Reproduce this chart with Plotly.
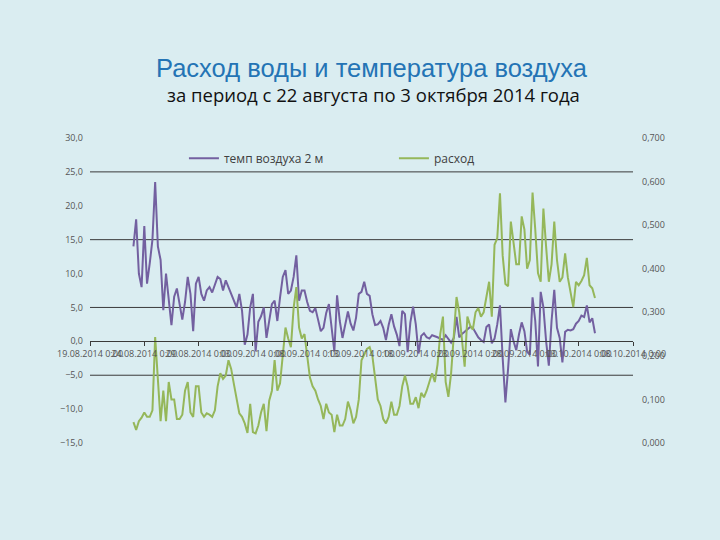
import pandas as pd
import plotly.graph_objects as go

# ---- data (6-hourly readings, starting 23.08.2014 0:00) ----
START = "2014-08-23 00:00"
STEP = "6h"

temp_2m = [
    14, 18, 10, 8, 17, 8.5, 11.5, 15, 23.5, 14,
    12, 4.6, 10, 6.5, 2.4, 6.6, 7.8, 5.5, 3.2, 5.8,
    9.5, 7, 1.5, 8.5, 9.5, 7, 6, 7.5, 8, 7.2,
    8.3, 9.5, 9.2, 7.5, 9, 8, 7, 6.2, 5, 7,
    4.5, -0.5, 1, 5, 7, -1.5, 2.9, 3.7, 5, 0.5,
    3.4, 5.5, 6, 3, 6.5, 9.5, 10.5, 7, 7.5, 9.5,
    12.7, 6, 7.5, 7.5, 5.8, 4.5, 4.3, 4.9, 3.2, 1.5,
    2, 4.2, 5.5, 2, -1.5, 6.8, 3, 0.5, 2.4, 4.4,
    2.6, 1.6, 3.5, 7, 7.3, 8.8, 7, 6.7, 4, 2.4,
    2.5, 3, 2, 0.2, 2.4, 4, 2.2, 1, -0.7, 4.5,
    4, -1.6, 2.8, 5.1, 2.5, -1.8, 0.8, 1.2, 0.6, 0.4,
    0.9, 0.8, 0.6, 0.4, 0.2, 0.9, 0.3, -0.2, 0.5, 3.6,
    0.6, 1.1, 1.4, 1.7, 2.1, 2, 1.2, 0.6, 0.2, -0.1,
    2.1, 2.5, -0.3, 0.4, 2.5, 5.3, -2.5, -9, -4, 1.8,
    0, -1.3, 1, 2.8, 1.5, -1.5, -2, 6.5, 3, -3.7,
    7.3, 5, 0, -3.6, 3, 7.6, 2, 0.5, -3.1, 1.4,
    1.7, 1.6, 1.8, 2.6, 3, 3.8, 3.6, 5.3, 2.8, 3.4,
    1.2,
]

discharge = [
    0.048, 0.03, 0.05, 0.058, 0.07, 0.06, 0.06, 0.075, 0.243, 0.155,
    0.05, 0.12, 0.05, 0.14, 0.1, 0.1, 0.055, 0.055, 0.065, 0.12,
    0.14, 0.07, 0.06, 0.13, 0.13, 0.07, 0.06, 0.068, 0.065, 0.06,
    0.075, 0.13, 0.16, 0.147, 0.155, 0.19, 0.17, 0.135, 0.1, 0.068,
    0.06, 0.045, 0.023, 0.09, 0.025, 0.022, 0.04, 0.07, 0.09, 0.027,
    0.097, 0.12, 0.19, 0.12, 0.137, 0.198, 0.265, 0.24, 0.22, 0.31,
    0.358, 0.265, 0.24, 0.25, 0.2, 0.15, 0.13, 0.12, 0.1, 0.085,
    0.055, 0.09, 0.07, 0.065, 0.025, 0.065, 0.04, 0.04, 0.055, 0.095,
    0.075, 0.045, 0.06, 0.1, 0.19, 0.205, 0.216, 0.22, 0.2, 0.15,
    0.1, 0.085, 0.055, 0.045, 0.06, 0.095, 0.065, 0.065, 0.085, 0.13,
    0.155, 0.13, 0.09, 0.09, 0.105, 0.08, 0.115, 0.105, 0.12, 0.14,
    0.16, 0.14, 0.18, 0.25, 0.29, 0.14, 0.106, 0.16, 0.25, 0.335,
    0.3, 0.24, 0.175, 0.29, 0.27, 0.26, 0.3, 0.31, 0.29, 0.3,
    0.34, 0.37, 0.29, 0.455, 0.47, 0.573, 0.43, 0.365, 0.36, 0.508,
    0.46, 0.41, 0.41, 0.52, 0.49, 0.4, 0.42, 0.575, 0.49, 0.39,
    0.37, 0.538, 0.45, 0.37, 0.41, 0.508, 0.42, 0.37, 0.38, 0.435,
    0.38, 0.345, 0.312, 0.37, 0.362, 0.372, 0.385, 0.425, 0.362, 0.355,
    0.333,
]

times = pd.date_range(START, periods=len(temp_2m), freq=STEP)

series_names = ["темп воздуха 2 м", "расход"]
title_text = "Расход воды и температура воздуха"
subtitle_text = "за период с 22 августа по 3 октября 2014 года"

X_RANGE = ["2014-08-19", "2014-10-08"]
LEFT_RANGE = [-15, 30]
RIGHT_RANGE = [0, 0.7]
GRID_LEVELS = [-5, 5, 15, 25]   # left-axis levels where the chart draws gridlines

BG = "#daedf1"
PURPLE = "#7360a0"
GREEN = "#95b75a"
DARK = "#3a3a3a"
TICK_FONT = dict(family="Open Sans", size=9, color="#555555")

fig = go.Figure()
fig.add_trace(go.Scatter(x=times, y=temp_2m, name=series_names[0], mode="lines",
                         line=dict(color=PURPLE, width=2), yaxis="y"))
fig.add_trace(go.Scatter(x=times, y=discharge, name=series_names[1], mode="lines",
                         line=dict(color=GREEN, width=2), yaxis="y2"))

for lvl in GRID_LEVELS:
    fig.add_shape(type="line", xref="paper", yref="y", x0=0, x1=1, y0=lvl, y1=lvl,
                  line=dict(color=DARK, width=1), layer="below")

fig.update_layout(
    width=720, height=540,
    margin=dict(l=90, r=87, t=138, b=97),
    paper_bgcolor=BG, plot_bgcolor=BG,
    separators=", ",
    showlegend=True,
    legend=dict(orientation="h", x=0.173, y=0.934, xanchor="left", yanchor="middle",
                bgcolor="rgba(0,0,0,0)", font=dict(family="Open Sans", size=12, color="#404040"),
                entrywidth=165, entrywidthmode="pixels", itemwidth=30),
    xaxis=dict(type="date", range=X_RANGE, tick0=X_RANGE[0], dtick=5 * 86400000,
               tickformat="%d.%m.%Y %-H:%M", tickangle=0, anchor="free", position=1 / 3,
               showgrid=False, zeroline=False, showline=True, linecolor=DARK, linewidth=1,
               ticks="outside", ticklen=4, tickcolor=DARK, tickfont=TICK_FONT),
    yaxis=dict(range=LEFT_RANGE, dtick=5, tick0=0, tickformat=".1f", showgrid=False,
               zeroline=False, showline=False, ticks="", tickfont=TICK_FONT,
               ticklabelstandoff=6),
    yaxis2=dict(range=RIGHT_RANGE, dtick=0.1, tick0=0, tickformat=".3f", overlaying="y",
                side="right", showgrid=False, zeroline=False, showline=False, ticks="",
                tickfont=TICK_FONT, ticklabelstandoff=8),
    annotations=[
        dict(text=title_text, xref="paper", yref="paper", x=0.519, y=1.2295,
             xanchor="center", yanchor="middle", showarrow=False,
             font=dict(family="Liberation Sans", size=25.5, color="#2474b5")),
        dict(text=subtitle_text, xref="paper", yref="paper", x=0.522, y=1.141,
             xanchor="center", yanchor="middle", showarrow=False,
             font=dict(family="Open Sans", size=18.5, color="#111111")),
    ],
)

fig.write_html(
    "out.html",
    config={"displayModeBar": False},
    post_script="document.body.style.margin='0';document.body.style.padding='0';"
                "document.body.style.overflow='hidden';"
                "document.body.style.backgroundColor='#daedf1';",
)
